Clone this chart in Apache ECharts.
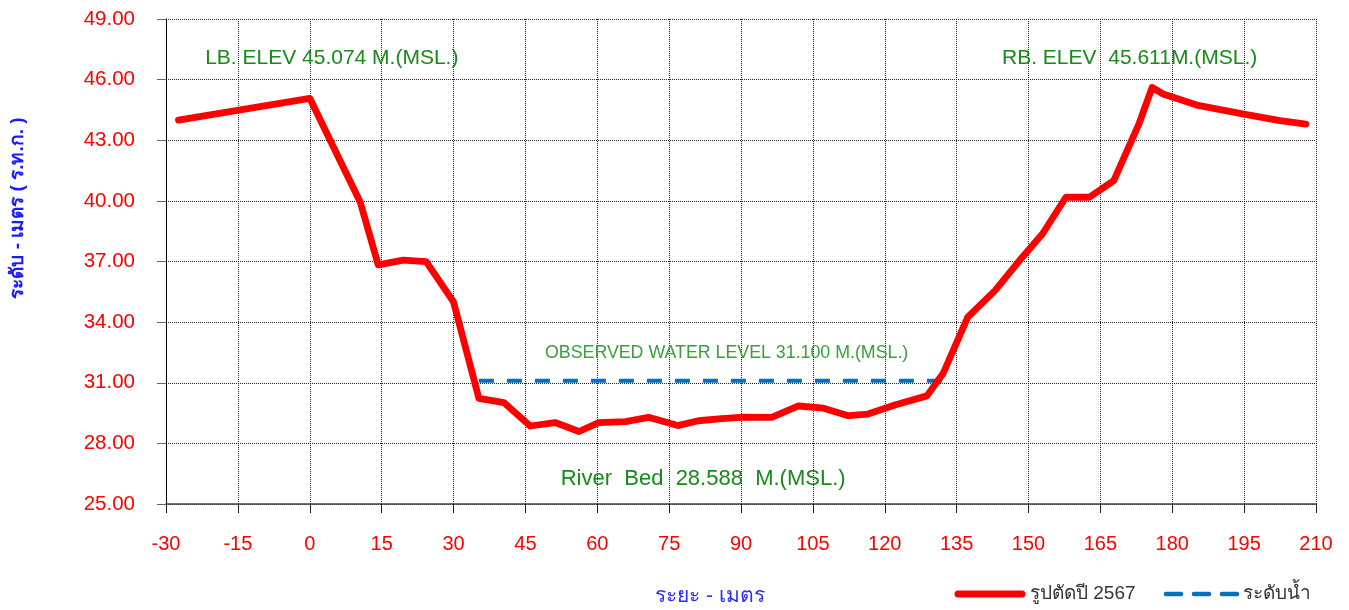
<!DOCTYPE html>
<html>
<head>
<meta charset="utf-8">
<script src="https://cdn.jsdelivr.net/npm/echarts@6/dist/echarts.min.js"></script>
<style>
html,body{margin:0;padding:0;background:#fff;}
#c{width:1349px;height:610px;}
</style>
</head>
<body>
<div id="c"></div>
<script>
// Cross-section distances (m) and elevations (m MSL)
const distance = [-27.4, 0, 10.5, 14.3, 19.5, 24.3, 30, 35.3, 40.5, 46, 51.2, 56.2, 60.3, 65.9, 70.7, 76.8, 81.1, 86, 90.5, 96.4, 102, 107.2, 112.4, 116.5, 122.1, 128.8, 132.2, 137.3, 143, 148.2, 152.9, 157.8, 162.7, 167.8, 173.1, 175.8, 178.1, 185.1, 195.2, 202.5, 207.9];
const elevation = [44.0, 45.074, 39.96, 36.83, 37.07, 36.99, 35.0, 30.23, 30.02, 28.86, 29.03, 28.588, 29.03, 29.08, 29.29, 28.88, 29.12, 29.22, 29.3, 29.29, 29.85, 29.74, 29.37, 29.45, 29.9, 30.35, 31.47, 34.24, 35.56, 37.07, 38.36, 40.18, 40.18, 41.0, 43.84, 45.611, 45.29, 44.74, 44.28, 43.97, 43.80];
const waterDistance = [35.3, 132];
const waterLevel = [31.1, 31.1];
const seriesNames = ['รูปตัดปี 2567', 'ระดับน้ำ'];
const xAxisName = 'ระยะ - เมตร';
const yAxisName = 'ระดับ - เมตร ( ร.ท.ก. )';
const annotations = [
  {text: 'LB. ELEV 45.074 M.(MSL.)', x: 4.6, y: 47.07, color: '#178a17', size: 21},
  {text: 'RB. ELEV  45.611M.(MSL.)', x: 171.1, y: 47.07, color: '#178a17', size: 21},
  {text: 'OBSERVED WATER LEVEL 31.100 M.(MSL.)', x: 87.0, y: 32.47, color: '#3c9e3c', size: 17.8},
  {text: 'River  Bed  28.588  M.(MSL.)', x: 82.1, y: 26.24, color: '#178a17', size: 22}
];

const FONT = "Tahoma, 'Liberation Sans', Arial, sans-serif";
const RED = '#ff0000', BLUE = '#0070c0';
const chart = echarts.init(document.getElementById('c'));

const bedData = distance.map((d, i) => [d, elevation[i]]);
const waterData = waterDistance.map((d, i) => [d, waterLevel[i]]);

chart.setOption({
  animation: false,
  backgroundColor: '#fff',
  grid: {left: 166, right: 33, top: 19, bottom: 106, containLabel: false},
  xAxis: {
    type: 'value', min: -30, max: 210, interval: 15,
    axisLine: {show: true, onZero: false, lineStyle: {color: '#444', width: 1.5}},
    axisTick: {show: true, length: 9, lineStyle: {color: '#222'}},
    axisLabel: {color: RED, fontSize: 20, fontFamily: FONT, margin: 30},
    splitLine: {show: true, lineStyle: {color: '#222', type: 'dotted', width: 1}}
  },
  yAxis: {
    type: 'value', min: 25, max: 49, interval: 3,
    axisLine: {show: true, onZero: false, lineStyle: {color: '#000', width: 1}},
    axisTick: {show: true, length: 9, lineStyle: {color: '#666'}},
    axisLabel: {color: RED, fontSize: 20.5, fontFamily: FONT, margin: 31,
      formatter: v => v.toFixed(2)},
    splitLine: {show: true, lineStyle: {color: '#222', type: 'dotted', width: 1}}
  },
  legend: {show: false, data: seriesNames},
  series: [
    {name: seriesNames[0], type: 'line', data: bedData, symbol: 'none',
      lineStyle: {color: RED, width: 6.8, cap: 'round', join: 'round'},
      itemStyle: {color: RED}, z: 3},
    {name: seriesNames[1], type: 'line', data: waterData, symbol: 'none',
      lineStyle: {color: BLUE, width: 4.2, type: [15, 13]},
      itemStyle: {color: BLUE}, z: 2}
  ]
});

function drawGraphics() {
  const g = [];
  annotations.forEach(a => {
    const p = chart.convertToPixel({gridIndex: 0}, [a.x, a.y]);
    g.push({type: 'text', x: p[0], y: p[1], z: 10,
      style: {text: a.text, fill: a.color, fontSize: a.size, fontFamily: FONT,
        align: 'center', verticalAlign: 'middle'}});
  });
  g.push({type: 'text', x: 710, y: 596, style: {text: xAxisName, fill: '#2b2bff', fontSize: 21,
    fontFamily: FONT, align: 'center', verticalAlign: 'middle'}});
  g.push({type: 'text', x: 18, y: 208, rotation: Math.PI / 2, style: {text: yAxisName, fill: '#1a1aff',
    fontSize: 19, fontWeight: 'bold', fontFamily: FONT, align: 'center', verticalAlign: 'middle'}});
  // legend
  const ly = 594;
  g.push({type: 'line', shape: {x1: 958, y1: ly, x2: 1022, y2: ly},
    style: {stroke: RED, lineWidth: 7, lineCap: 'round'}});
  g.push({type: 'text', x: 1030, y: ly, style: {text: seriesNames[0], fill: '#333', fontSize: 19,
    fontFamily: FONT, align: 'left', verticalAlign: 'middle'}});
  [1166, 1194, 1222].forEach(x0 => g.push({type: 'line', shape: {x1: x0, y1: ly, x2: x0 + 15, y2: ly},
    style: {stroke: BLUE, lineWidth: 4.5, lineCap: 'round'}}));
  g.push({type: 'text', x: 1243, y: ly, style: {text: seriesNames[1], fill: '#333', fontSize: 19,
    fontFamily: FONT, align: 'left', verticalAlign: 'middle'}});
  chart.setOption({graphic: g});
}
drawGraphics();
</script>
</body>
</html>
